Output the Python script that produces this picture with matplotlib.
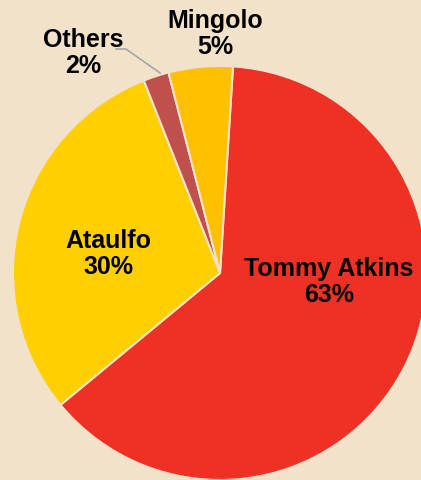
import matplotlib.pyplot as plt

# --- dati ---
varieta = ["Tommy Atkins", "Ataulfo", "Others", "Mingolo"]
quote = [63, 30, 2, 5]
colori = ["#EE3124", "#FFCF00", "#C0504D", "#FFC000"]
sfondo = "#F2E2C9"

# posizioni delle etichette (pixel dell'immagine)
pos_etichette = [(329, 282), (108, 254), (83, 53), (215, 34)]

plt.rcParams['font.family'] = ['Liberation Sans', 'DejaVu Sans']

fig = plt.figure(figsize=(4.21, 4.80), dpi=100, facecolor=sfondo)
ax = fig.add_axes([0, 0, 1, 1])
ax.set_facecolor(sfondo)

centro = (220, 480 - 273)
raggio = 207
ax.pie(quote, colors=colori, startangle=86.4, counterclock=False,
       center=centro, radius=raggio,
       wedgeprops=dict(edgecolor=sfondo, linewidth=1.5))

# linea guida per "Others"
ax.plot([116, 126, 160], [480 - 49, 480 - 49, 480 - 73], color="#A6A6A6", lw=1.2)

for nome, q, (px, py) in zip(varieta, quote, pos_etichette):
    ax.text(px, 480 - py, f"{nome}\n{q}%", ha='center', va='center',
            fontsize=18, fontweight='bold', color='black', linespacing=1.12)

ax.set_xlim(0, 421)
ax.set_ylim(0, 480)
ax.set_aspect('auto')
ax.axis('off')

fig.savefig("out.png", dpi=100, facecolor=sfondo)
